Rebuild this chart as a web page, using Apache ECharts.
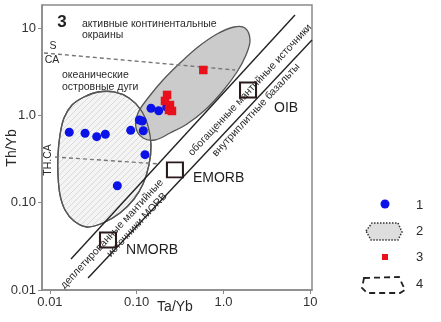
<!DOCTYPE html>
<html><head><meta charset="utf-8">
<script src="https://cdn.jsdelivr.net/npm/echarts@6/dist/echarts.min.js"></script>
<style>html,body{margin:0;padding:0;background:#fff}#c{width:441px;height:322px}</style>
</head><body><div id="c"></div>
<script>
// ---- data ----
const xTicks = [0.01, 0.1, 1, 10];
const xTickLabels = ['0.01', '0.10', '1.0', '10'];
const yTicks = [0.01, 0.1, 1, 10];
const yTickLabels = ['0.01', '0.10', '1.0', '10'];

const blueTaYb = [0.0167, 0.0254, 0.0346, 0.0435, 0.0853, 0.1072, 0.1161, 0.1192, 0.1247, 0.0598, 0.1462, 0.1794, 0.2218];
const blueThYb = [0.639, 0.622, 0.569, 0.606, 0.673, 0.883, 0.860, 0.666, 0.354, 0.156, 1.202, 1.126, 1.244];

const redTaYb = [0.586, 0.224, 0.212, 0.242, 0.236, 0.255];
const redThYb = [3.30, 1.71, 1.46, 1.31, 1.15, 1.12];

const refNames = ['NMORB', 'EMORB', 'OIB'];
const refTaYb = [0.0467, 0.276, 1.92];
const refThYb = [0.0374, 0.237, 1.95];

// oceanic island arc field outline
const arcTaYb = [0.0358, 0.0247, 0.01796, 0.01452, 0.01306, 0.01238, 0.01238, 0.01306, 0.01491, 0.01894, 0.02674, 0.0409, 0.0642, 0.0931, 0.1183, 0.1386, 0.1462, 0.1350, 0.1121, 0.0815, 0.0548];
const arcThYb = [1.848, 1.620, 1.311, 0.931, 0.5947, 0.351, 0.2072, 0.1224, 0.0823, 0.0616, 0.0526, 0.0585, 0.0761, 0.1101, 0.1634, 0.2698, 0.457, 0.754, 1.149, 1.577, 1.848];

// active continental margin field outline
const acmTaYb = [1.772, 2.024, 1.820, 1.433, 0.9625, 0.6131, 0.3802, 0.2421, 0.1626, 0.1183, 0.0982, 0.1035, 0.1350, 0.2011, 0.3157, 0.5089, 0.843, 1.324];
const acmThYb = [9.98, 7.28, 4.90, 3.13, 1.848, 1.149, 0.795, 0.627, 0.5213, 0.5495, 0.7153, 1.062, 1.577, 2.535, 3.97, 6.05, 8.52, 10.25];

// mantle array boundaries
const mantleUpperTaYb = [0.0175, 6.68];
const mantleUpperThYb = [0.0226, 14.07];
const mantleLowerTaYb = [0.0275, 10.49];
const mantleLowerThYb = [0.0137, 7.28];

// S/CA and TH/CA dividers
const sCaTaYb = [0.00854, 1.36];
const sCaThYb = [5.17, 3.30];
const thCaTaYb = [0.01144, 0.1857];
const thCaThYb = [0.333, 0.277];

// ---- chart ----
const FONT = '"Liberation Sans", Arial, sans-serif';
const pc = document.createElement('canvas'); pc.width = 6; pc.height = 6;
const g = pc.getContext('2d');
g.fillStyle = '#f4f4f4'; g.fillRect(0, 0, 6, 6);
g.strokeStyle = '#dadada'; g.lineWidth = 1;
g.beginPath(); g.moveTo(0, 6); g.lineTo(6, 0); g.moveTo(-1, 1); g.lineTo(1, -1); g.moveTo(5, 7); g.lineTo(7, 5); g.stroke();
const hatch = { image: pc, repeat: 'repeat' };

const zip = (a, b) => a.map((v, i) => [v, b[i]]);
function polySeries(xs, ys, style, z) {
  return {
    type: 'custom', z: z, silent: true, clip: true,
    data: zip(xs, ys),
    encode: { x: 0, y: 1 },
    renderItem: function (params, api) {
      if (params.dataIndex !== 0) return null;
      const pts = xs.map((x, i) => api.coord([x, ys[i]]));
      return { type: 'polygon', shape: { points: pts, smooth: 0.35 }, style: style };
    }
  };
}
function lineSeries(xs, ys, color, dash, z) {
  return {
    type: 'line', z: z, silent: true, symbol: 'none', animation: false,
    data: zip(xs, ys),
    lineStyle: { color: color, width: 1.4, type: dash ? [4, 3] : 'solid' }
  };
}

const chart = echarts.init(document.getElementById('c'), null, { renderer: 'canvas' });
const rot = 47 * Math.PI / 180;
const txt = (x, y, s, o) => Object.assign({
  type: 'text', x: x, y: y, silent: true,
  style: Object.assign({ text: s, fill: '#2a2a2a', font: '10.5px ' + FONT, align: 'left', verticalAlign: 'middle' }, (o && o.style) || {})
}, o ? { rotation: o.rotation || 0 } : {});

chart.setOption({
  animation: false,
  backgroundColor: '#fff',
  grid: { left: 42, top: 5, width: 270, height: 285, show: true, borderColor: '#8a8a8a', borderWidth: 1.5 },
  xAxis: {
    type: 'log', min: 0.0081, max: 10.49, logBase: 10,
    axisLine: { lineStyle: { color: '#8a8a8a', width: 1.5 } },
    axisTick: { customValues: xTicks, length: 4, lineStyle: { color: '#8a8a8a' } },
    axisLabel: { customValues: xTicks, color: '#333', fontSize: 13, fontFamily: FONT, margin: 6,
      formatter: v => { const i = xTicks.findIndex(t => Math.abs(Math.log10(t) - Math.log10(v)) < 1e-6); return i >= 0 ? xTickLabels[i] : ''; } },
    splitLine: { show: false }, minorTick: { show: false }
  },
  yAxis: {
    type: 'log', min: 0.01, max: 18.3, logBase: 10,
    axisLine: { lineStyle: { color: '#8a8a8a', width: 1.5 } },
    axisTick: { customValues: yTicks, length: 4, lineStyle: { color: '#8a8a8a' } },
    axisLabel: { customValues: yTicks, color: '#333', fontSize: 13, fontFamily: FONT, margin: 6,
      formatter: v => { const i = yTicks.findIndex(t => Math.abs(Math.log10(t) - Math.log10(v)) < 1e-6); return i >= 0 ? yTickLabels[i] : ''; } },
    splitLine: { show: false }, minorTick: { show: false }
  },
  series: [
    polySeries(arcTaYb, arcThYb, { fill: hatch, stroke: '#555', lineWidth: 1.3 }, 1),
    polySeries(acmTaYb, acmThYb, { fill: '#cbcbcb', stroke: '#555', lineWidth: 1.3 }, 2),
    polySeries(arcTaYb, arcThYb, { fill: 'none', stroke: '#555', lineWidth: 1.3 }, 3),
    lineSeries(sCaTaYb, sCaThYb, '#777', true, 4),
    lineSeries(thCaTaYb, thCaThYb, '#777', true, 4),
    lineSeries(mantleUpperTaYb, mantleUpperThYb, '#222', false, 4),
    lineSeries(mantleLowerTaYb, mantleLowerThYb, '#222', false, 4),
    {
      type: 'scatter', z: 6, symbol: 'circle', symbolSize: 9,
      itemStyle: { color: '#0a12e8', opacity: 1 }, data: zip(blueTaYb, blueThYb)
    },
    {
      type: 'scatter', z: 6, symbol: 'rect', symbolSize: 8.5,
      itemStyle: { color: '#e8101a', opacity: 1 }, data: zip(redTaYb, redThYb)
    },
    {
      type: 'scatter', z: 7, symbol: 'rect', symbolSize: [16, 15],
      itemStyle: { color: 'rgba(0,0,0,0)', borderColor: '#2a1a1a', borderWidth: 2, opacity: 1 },
      label: { show: true, position: 'right', distance: 9, color: '#1e1e1e', fontSize: 14, fontFamily: FONT,
        textBorderWidth: 0, formatter: p => p.name },
      data: refTaYb.map((x, i) => ({ value: [x, refThYb[i]], name: refNames[i],
        label: { offset: [[0, 10], [0, 8], [8, 18]][i] } }))
    }
  ],
  graphic: [
    txt(62, 22, '3', { style: { font: 'bold 17px ' + FONT, fill: '#222', align: 'center' } }),
    txt(82, 24, 'активные континентальные'),
    txt(82, 35, 'окраины'),
    txt(62, 75, 'океанические'),
    txt(62, 87, 'островные дуги'),
    txt(53, 46, 'S', { style: { align: 'center' } }),
    txt(52, 60, 'CA', { style: { align: 'center' } }),
    txt(48, 160, 'TH.CA', { rotation: Math.PI / 2, style: { align: 'center' } }),
    txt(112, 234, 'деплетированные мантийные', { rotation: rot, style: { align: 'center' } }),
    txt(137, 225, 'источники MORB', { rotation: rot, style: { align: 'center' } }),
    txt(250, 90, 'обогащенные мантийные источники', { rotation: rot, style: { align: 'center' } }),
    txt(256, 110, 'внутриплитные базальты', { rotation: rot, style: { align: 'center' } }),
    txt(175, 307, 'Ta/Yb', { style: { font: '14px ' + FONT, align: 'center' } }),
    txt(12, 148, 'Th/Yb', { rotation: Math.PI / 2, style: { font: '14px ' + FONT, align: 'center' } }),
    // legend
    { type: 'circle', shape: { cx: 385, cy: 204, r: 4.5 }, style: { fill: '#0a12e8' }, silent: true },
    { type: 'polygon', shape: { points: [[366, 231], [372, 223], [398, 223], [402, 232], [398, 240], [371, 240]] },
      style: { fill: '#dedede', stroke: '#333', lineWidth: 1.5, lineDash: [1.5, 1.5] }, silent: true },
    { type: 'rect', shape: { x: 382, y: 254, width: 6, height: 6 }, style: { fill: '#e8101a' }, silent: true },
    { type: 'polygon', shape: { points: [[364, 278], [399, 277], [405, 290], [400, 293], [367, 293], [362, 288]] },
      style: { fill: 'none', stroke: '#222', lineWidth: 1.8, lineDash: [6, 4] }, silent: true },
    txt(416, 205, '1', { style: { font: '13px ' + FONT } }),
    txt(416, 231, '2', { style: { font: '13px ' + FONT } }),
    txt(416, 257, '3', { style: { font: '13px ' + FONT } }),
    txt(416, 284, '4', { style: { font: '13px ' + FONT } })
  ]
});
</script></body></html>
